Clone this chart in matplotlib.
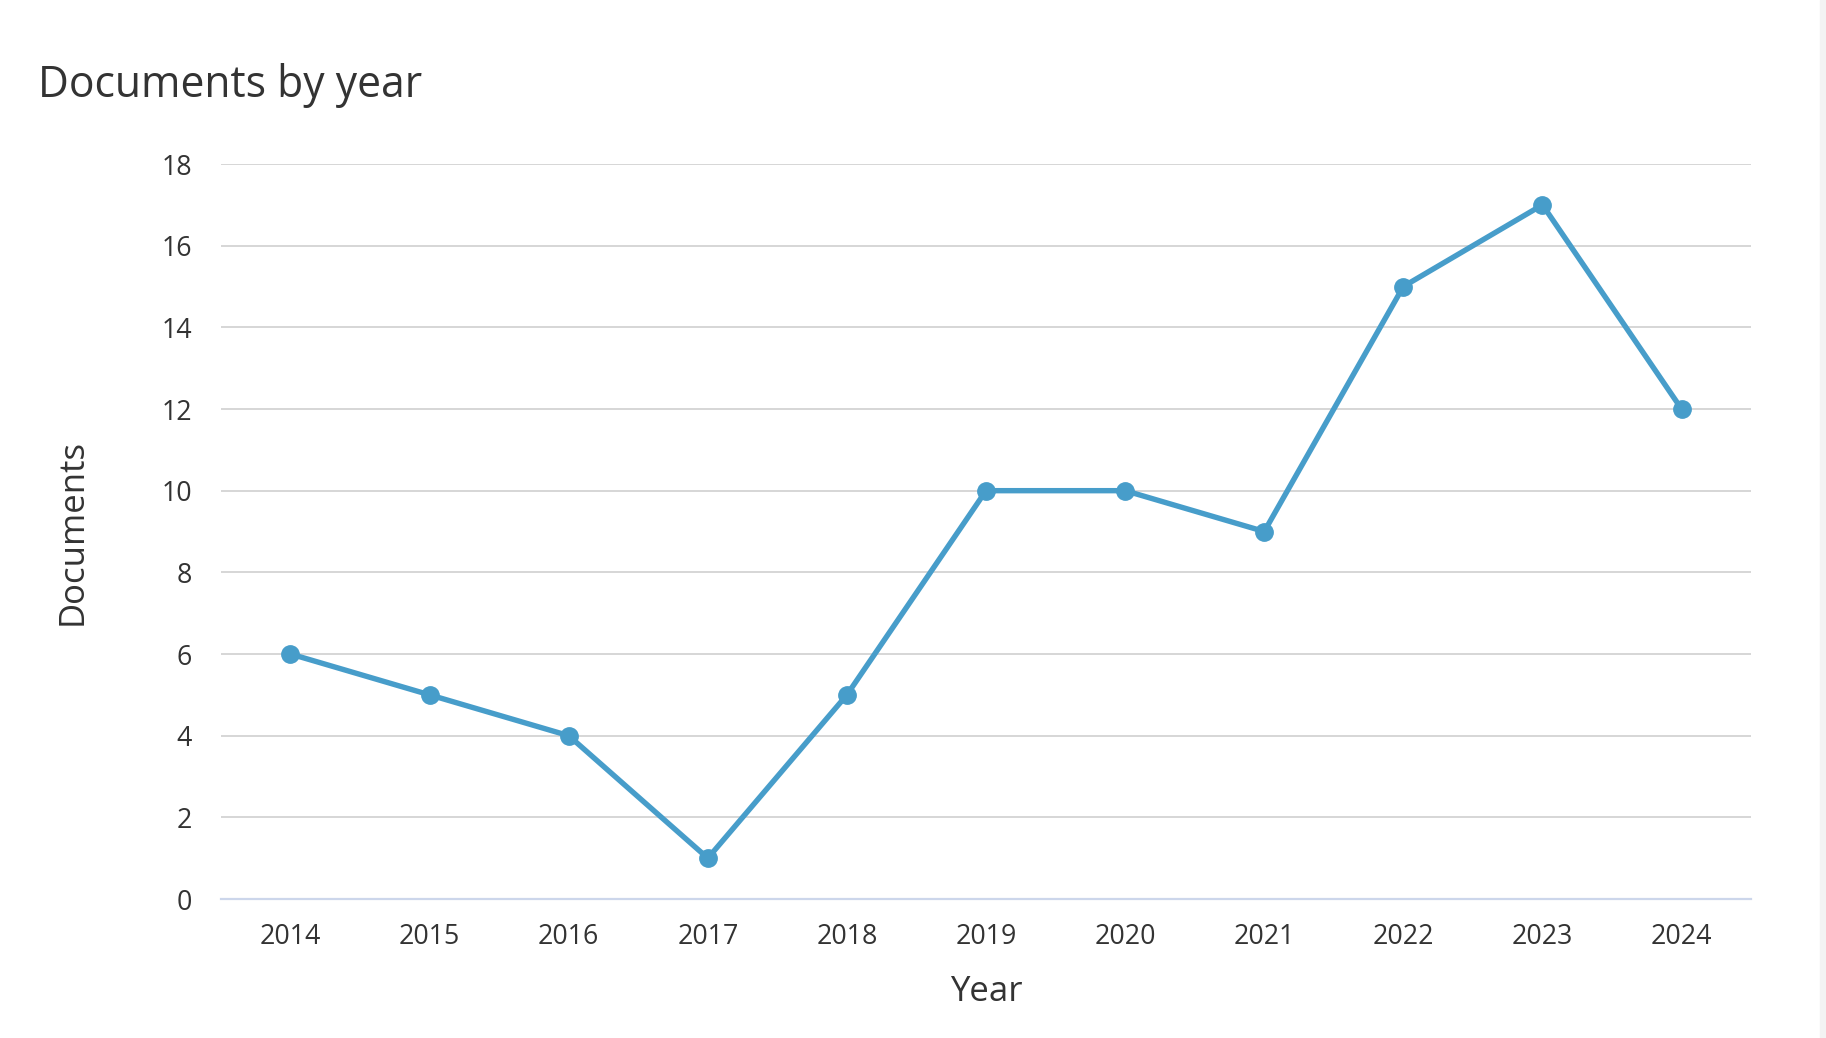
import matplotlib
matplotlib.use("Agg")
import matplotlib.pyplot as plt
from matplotlib.patches import Rectangle

years = [2014, 2015, 2016, 2017, 2018, 2019, 2020, 2021, 2022, 2023, 2024]
documents = [6, 5, 4, 1, 5, 10, 10, 9, 15, 17, 12]
y_ticks = [0, 2, 4, 6, 8, 10, 12, 14, 16, 18]

plt.rcParams['font.family'] = ['Open Sans', 'DejaVu Sans']
text_color = '#333333'
line_color = '#479dca'

fig = plt.figure(figsize=(18.26, 10.38), dpi=100)
ax = fig.add_axes([0.121, 0.1339, 0.838, 0.7081])

# thin grey strip at the right edge, like the screenshot's scroll bar
fig.patches.append(Rectangle((1820 / 1826, 0), 6 / 1826, 1, transform=fig.transFigure,
                             color='#f3f3f3', zorder=0))

ax.plot(years, documents, color=line_color, linewidth=3.9, marker='o',
        markersize=12.5, clip_on=False, zorder=3)

ax.set_xlim(2013.5, 2024.5)
ax.set_ylim(0, 18)
ax.set_xticks(years)
ax.set_yticks(y_ticks)
ax.grid(axis='y', color='#d6d6d6', linewidth=1.4)
ax.set_axisbelow(True)

for s in ['top', 'right', 'left']:
    ax.spines[s].set_visible(False)
ax.spines['bottom'].set_color('#ccd6eb')
ax.spines['bottom'].set_linewidth(1.6)

ax.tick_params(axis='both', length=0, labelsize=19.3, labelcolor=text_color)
ax.tick_params(axis='x', pad=17)
ax.tick_params(axis='y', pad=21)

fig.text(0.0208, 0.9066, 'Documents by year', fontsize=30.7, color=text_color,
         ha='left', va='baseline')
fig.text(0.540, 0.0440, 'Year', fontsize=25, color=text_color,
         ha='center', va='center')
fig.text(0.0395, 0.487, 'Documents', fontsize=25, color=text_color,
         ha='center', va='center', rotation=90)

fig.savefig('out.png', dpi=100, facecolor='white')
